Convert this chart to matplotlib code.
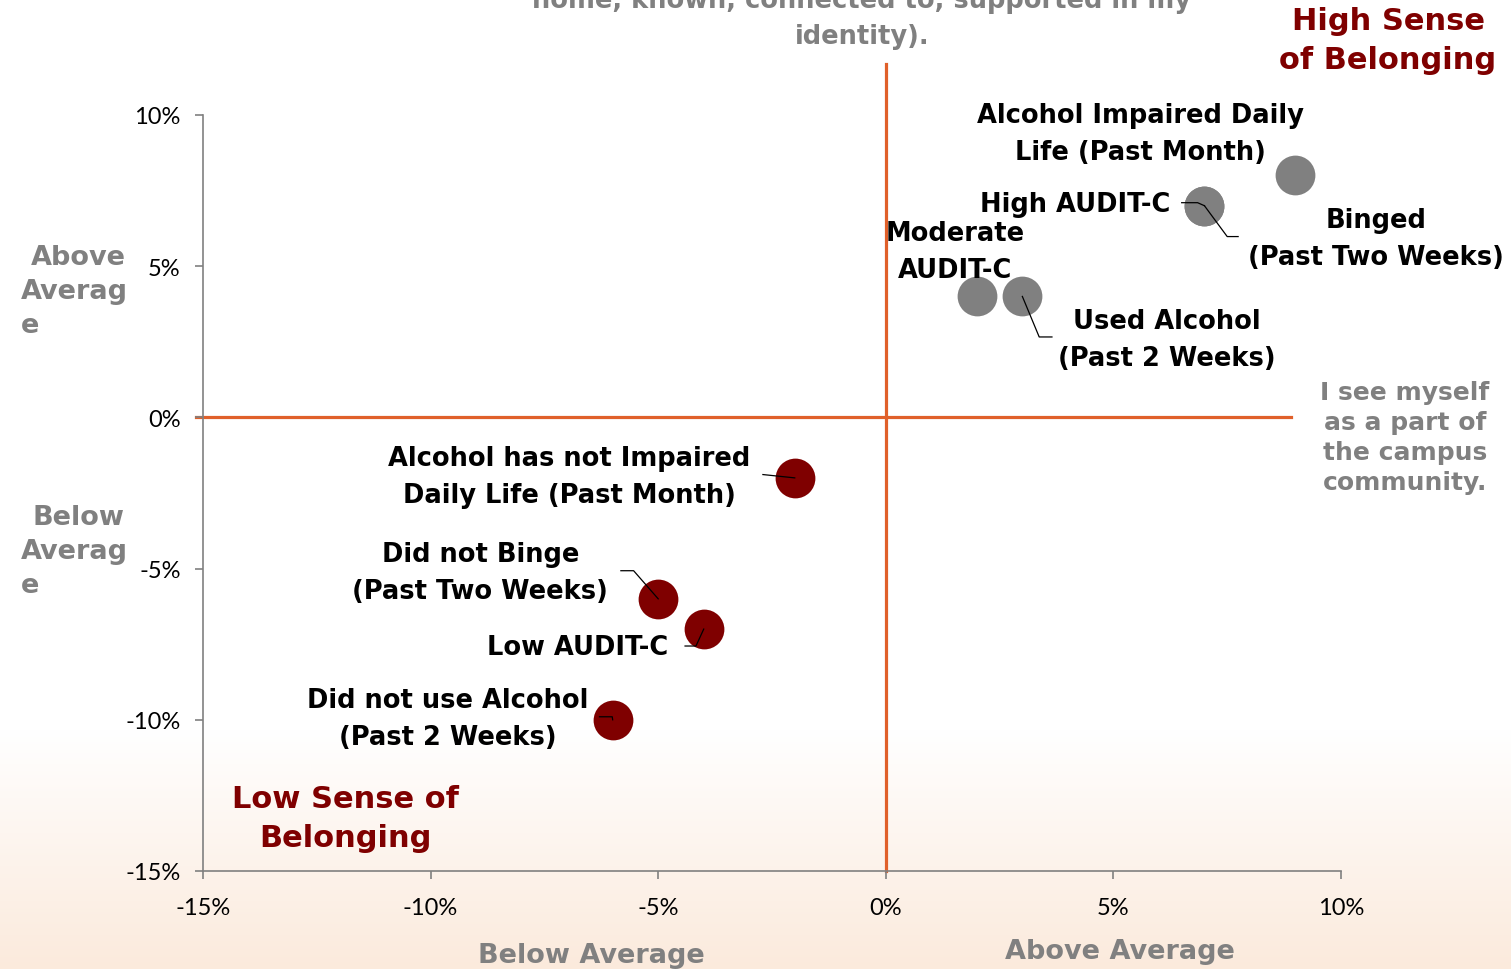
import matplotlib
matplotlib.use("Agg")
import matplotlib.pyplot as plt
import numpy as np
from matplotlib.colors import LinearSegmentedColormap

# data (percent difference vs. average)
high_labels = ["Alcohol Impaired Daily\nLife (Past Month)", "High AUDIT-C",
               "Binged\n(Past Two Weeks)", "Moderate\nAUDIT-C",
               "Used Alcohol\n(Past 2 Weeks)"]
high_x = [9, 7, 7, 2, 3]
high_y = [8, 7, 7, 4, 4]

low_labels = ["Alcohol has not Impaired\nDaily Life (Past Month)",
              "Did not Binge\n(Past Two Weeks)", "Low AUDIT-C",
              "Did not use Alcohol\n(Past 2 Weeks)"]
low_x = [-2, -5, -4, -6]
low_y = [-2, -6, -7, -10]

x_ticks = [-15, -10, -5, 0, 5, 10]
y_ticks = [-15, -10, -5, 0, 5, 10]

# label placement (data coords) and leader line start/elbow, None = no leader
high_pos = [(5.6, 9.4), (6.25, 7.06), (10.77, 5.92), (1.52, 5.49), (6.18, 2.59)]
high_ha = ["center", "right", "center", "center", "center"]
high_lead = [None, [(6.5, 7.1), (6.85, 7.1)], [(7.74, 5.98), (7.5, 5.98)],
             None, [(3.65, 2.66), (3.37, 2.66)]]
low_pos = [(-6.96, -1.95), (-8.91, -5.13), (-6.76, -7.59), (-9.62, -9.97)]
low_lead = [[(-2.7, -1.89), (-2.7, -1.89)], [(-5.82, -5.07), (-5.54, -5.07)],
            [(-4.41, -7.56), (-4.17, -7.56)], [(-6.29, -9.9), (-6.01, -9.9)]]

DARKRED = "#7f0000"
GRAY = "#808080"
ORANGE = "#e0602a"
BOLD = dict(family="DejaVu Sans", fontweight="bold")

fig = plt.figure(figsize=(15.11, 9.70), dpi=100)

# background gradient: white -> light peach at bottom
bg = fig.add_axes([0, 0, 1, 1], zorder=-10)
grad = np.ones((970, 1))
rows = np.arange(970)
grad[:, 0] = np.clip((rows - 730) / 240.0, 0, 1)
cmap = LinearSegmentedColormap.from_list("bgpeach", ["#ffffff", "#fbeadc"])
bg.imshow(grad, aspect="auto", cmap=cmap, extent=[0, 1, 0, 1], vmin=0, vmax=1)
bg.axis("off")

ax = fig.add_axes([203 / 1511, 1 - 872 / 970, (1341 - 203) / 1511, (872 - 116) / 970])
ax.patch.set_alpha(0)
ax.set_xlim(-15, 10)
ax.set_ylim(-15, 10)
ax.set_xticks(x_ticks)
ax.set_yticks(y_ticks)
ax.set_xticklabels([f"{t}%" for t in x_ticks])
ax.set_yticklabels([f"{t}%" for t in y_ticks])
for s in ["top", "right"]:
    ax.spines[s].set_visible(False)
for s in ["left", "bottom"]:
    ax.spines[s].set_color(GRAY)
    ax.spines[s].set_linewidth(1.2)
ax.tick_params(colors=GRAY, length=6, width=1.2, labelcolor="black",
               labelsize=17, pad=10)
ax.tick_params(axis="x", pad=13)
for lbl in ax.get_xticklabels() + ax.get_yticklabels():
    lbl.set_family("Lato")

# quadrant lines
ax.plot([-15.15, 8.9], [0, 0], color=ORANGE, lw=2.3, clip_on=False, zorder=1)
ax.plot([0, 0], [-15, 11.7], color=ORANGE, lw=2.3, clip_on=False, zorder=1)

ax.scatter(high_x, high_y, s=820, color=GRAY, zorder=3, linewidths=0)
ax.scatter(low_x, low_y, s=820, color=DARKRED, zorder=3, linewidths=0)

for i, lab in enumerate(high_labels):
    ax.text(*high_pos[i], lab, ha=high_ha[i], va="center", fontsize=18.5,
            linespacing=1.55, color="black", zorder=5, **BOLD)
    if high_lead[i]:
        (sx, sy), (ex, ey) = high_lead[i]
        ax.plot([sx, ex, high_x[i]], [sy, ey, high_y[i]], color="black",
                lw=0.9, zorder=4)

for i, lab in enumerate(low_labels):
    ax.text(*low_pos[i], lab, ha="center", va="center", fontsize=18.5,
            linespacing=1.55, color="black", zorder=5, **BOLD)
    (sx, sy), (ex, ey) = low_lead[i]
    ax.plot([sx, ex, low_x[i]], [sy, ey, low_y[i]], color="black",
            lw=0.9, zorder=4)

def px(x, y):
    return x / 1511, 1 - y / 970

# quadrant captions
fig.text(*px(1388, 41), "High Sense\nof Belonging", ha="center", va="center",
         fontsize=22, color=DARKRED, linespacing=1.45, **BOLD)
fig.text(*px(345, 819), "Low Sense of\nBelonging", ha="center", va="center",
         fontsize=22, color=DARKRED, linespacing=1.45, **BOLD)

# axis titles (gray); the top one runs off the top edge as in the source
fig.text(*px(862, 19), "home, known, connected to, supported in my\nidentity).",
         ha="center", va="center", fontsize=18.5, color=GRAY, linespacing=1.5,
         **BOLD)
fig.text(*px(1405, 438), "I see myself\nas a part of\nthe campus\ncommunity.",
         ha="center", va="center", fontsize=18, color=GRAY, linespacing=1.3,
         **BOLD)
fig.text(*px(591, 956), "Below Average", ha="center", va="center",
         fontsize=19.5, color=GRAY, **BOLD)
fig.text(*px(1120, 952), "Above Average", ha="center", va="center",
         fontsize=19.5, color=GRAY, **BOLD)
for y0, words in [(258, ["Above", "Averag", "e"]), (518, ["Below", "Averag", "e"])]:
    fig.text(*px(78, y0), words[0], ha="center", va="center", fontsize=19.5,
             color=GRAY, **BOLD)
    fig.text(*px(21, y0 + 34), words[1], ha="left", va="center", fontsize=19.5,
             color=GRAY, **BOLD)
    fig.text(*px(21, y0 + 68), words[2], ha="left", va="center", fontsize=19.5,
             color=GRAY, **BOLD)

fig.savefig("out.png", dpi=100)
